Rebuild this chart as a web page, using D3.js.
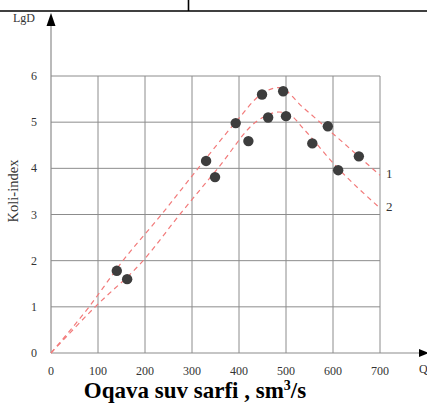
<!DOCTYPE html>
<html>
<head>
<meta charset="utf-8">
<script src="https://cdn.jsdelivr.net/npm/d3@7"></script>
<style>
  html, body { margin: 0; padding: 0; background: #fff; }
  svg { display: block; }
</style>
</head>
<body>
<div id="chart"></div>
<script>
// ---- data ----
const xTicks = [0, 100, 200, 300, 400, 500, 600, 700];
const yTicks = [0, 1, 2, 3, 4, 5, 6];
const pointsQ = [140, 162, 330, 349, 393, 420, 449, 462, 494, 500, 556, 589, 611, 655];
const pointsLgD = [1.78, 1.6, 4.16, 3.81, 4.98, 4.59, 5.6, 5.1, 5.67, 5.13, 4.54, 4.91, 3.96, 4.26];
const curve1Q = [0, 81, 153, 235, 313, 393, 449, 485, 536, 600, 700];
const curve1LgD = [0, 1, 2, 3, 4, 5, 5.62, 5.75, 5.32, 4.75, 3.85];
const curve2Q = [0, 94, 196, 274, 355, 438, 485, 510, 536, 608, 700];
const curve2LgD = [0, 1, 2, 3, 4, 5.02, 5.22, 5.15, 4.87, 4.03, 3.14];
const curveLabels = ["1", "2"];
const xTitle = "Oqava suv sarfi , sm";
const yTitle = "Koli-index";
const yAxisName = "LgD";
const xAxisName = "Q";

// ---- layout ----
const W = 427, H = 403;
const x = d3.scaleLinear().domain([0, 700]).range([51, 380]);
const y = d3.scaleLinear().domain([0, 6]).range([353, 76]);
const serif = "'Liberation Serif','Times New Roman',serif";
const gridColor = "#8c8c8c";
const textColor = "#333";

const svg = d3.select("#chart").append("svg").attr("width", W).attr("height", H);

// top table border fragment
svg.append("line").attr("x1", 0).attr("x2", W).attr("y1", 11).attr("y2", 11)
  .attr("stroke", "#000").attr("stroke-width", 1.6);
svg.append("line").attr("x1", 188.5).attr("x2", 188.5).attr("y1", 0).attr("y2", 11)
  .attr("stroke", "#000").attr("stroke-width", 1.6);

// grid
const g = svg.append("g");
g.selectAll(".vg").data(xTicks.filter(d => d > 0)).join("line")
  .attr("x1", d => x(d)).attr("x2", d => x(d))
  .attr("y1", y(0)).attr("y2", y(6))
  .attr("stroke", gridColor).attr("stroke-width", 1);
g.selectAll(".hg").data(yTicks.filter(d => d > 0)).join("line")
  .attr("x1", x(0)).attr("x2", x(700))
  .attr("y1", d => y(d)).attr("y2", d => y(d))
  .attr("stroke", gridColor).attr("stroke-width", 1);

// axes lines
svg.append("line").attr("x1", x(0)).attr("x2", x(0)).attr("y1", y(0)).attr("y2", 24)
  .attr("stroke", gridColor).attr("stroke-width", 1.2);
svg.append("line").attr("x1", x(0)).attr("x2", 420).attr("y1", y(0)).attr("y2", y(0))
  .attr("stroke", gridColor).attr("stroke-width", 1.2);
// arrow heads
svg.append("path").attr("d", `M${x(0)},13 L${x(0) - 4.5},26 L${x(0) + 4.5},26 Z`).attr("fill", "#000");
svg.append("path").attr("d", `M429,${y(0)} L419,${y(0) - 4} L419,${y(0) + 4} Z`).attr("fill", "#000");

// tick labels
svg.selectAll(".xt").data(xTicks).join("text")
  .attr("x", d => x(d)).attr("y", 375)
  .attr("text-anchor", "middle")
  .attr("font-family", serif).attr("font-size", 12).attr("fill", textColor)
  .text(d => d);
svg.selectAll(".yt").data(yTicks).join("text")
  .attr("x", 34).attr("y", d => y(d) + 4)
  .attr("text-anchor", "middle")
  .attr("font-family", serif).attr("font-size", 12).attr("fill", textColor)
  .text(d => d);

// axis names
svg.append("text").attr("x", 13).attr("y", 22)
  .attr("font-family", serif).attr("font-size", 12).attr("fill", textColor).text(yAxisName);
svg.append("text").attr("x", 419).attr("y", 373)
  .attr("font-family", serif).attr("font-size", 12).attr("fill", textColor).text(xAxisName);
svg.append("text")
  .attr("transform", `translate(18,191) rotate(-90)`)
  .attr("text-anchor", "middle")
  .attr("font-family", serif).attr("font-size", 14.5).attr("fill", textColor).text(yTitle);

// title
const t = svg.append("text").attr("x", 195).attr("y", 398)
  .attr("text-anchor", "middle")
  .attr("font-family", serif).attr("font-size", 23).attr("font-weight", "bold").attr("fill", "#000");
t.append("tspan").text(xTitle);
t.append("tspan").attr("dy", -8).attr("font-size", 14).text("3");
t.append("tspan").attr("dy", 8).text("/s");

// curves
const line = d3.line().x(d => x(d[0])).y(d => y(d[1])).curve(d3.curveMonotoneX);
const c1 = curve1Q.map((q, i) => [q, curve1LgD[i]]);
const c2 = curve2Q.map((q, i) => [q, curve2LgD[i]]);
[c1, c2].forEach(c => {
  svg.append("path").attr("d", line(c))
    .attr("fill", "none").attr("stroke", "#f27a7a").attr("stroke-width", 1.2)
    .attr("stroke-dasharray", "5,4");
});
// curve labels
[c1, c2].forEach((c, i) => {
  const last = c[c.length - 1];
  svg.append("text").attr("x", x(last[0]) + 6).attr("y", y(last[1]) + 3)
    .attr("font-family", serif).attr("font-size", 13).attr("fill", textColor)
    .text(curveLabels[i]);
});

// points
svg.selectAll(".pt").data(pointsQ.map((q, i) => [q, pointsLgD[i]])).join("circle")
  .attr("cx", d => x(d[0])).attr("cy", d => y(d[1])).attr("r", 5.2)
  .attr("fill", "#3d3d3d");
</script>
</body>
</html>
